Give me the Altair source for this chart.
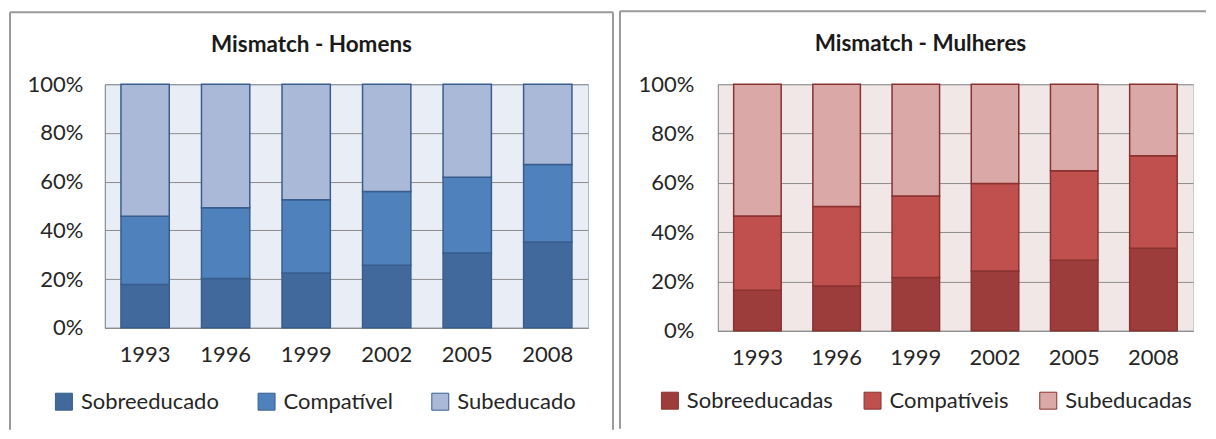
import altair as alt
import pandas as pd

FONT = "Lato"
TXT = "#262626"
GRID = "#8c8c8c"

years = ["1993", "1996", "1999", "2002", "2005", "2008"]

homens_labels = ["Sobreeducado", "Compatível", "Subeducado"]
homens_sobre = [17.8, 20.2, 22.5, 25.7, 30.7, 35.2]
homens_compat = [28.0, 29.1, 30.1, 30.3, 31.1, 31.8]
homens_sub = [54.2, 50.7, 47.4, 44.0, 38.2, 33.0]
homens_colors = ["#41699B", "#4F81BD", "#A9B9D7"]

mulheres_labels = ["Sobreeducadas", "Compatíveis", "Subeducadas"]
mulheres_sobre = [16.5, 18.2, 21.6, 24.3, 28.6, 33.5]
mulheres_compat = [30.1, 32.2, 33.1, 35.4, 36.3, 37.5]
mulheres_sub = [53.4, 49.6, 45.3, 40.3, 35.1, 29.0]
mulheres_colors = ["#9D3D3B", "#C0504D", "#DAA8A7"]


def make_df(labels, series):
    rows = []
    for k, (lab, vals) in enumerate(zip(labels, series)):
        for y, v in zip(years, vals):
            rows.append({"ano": y, "nivel": lab, "valor": v, "ordem": k})
    return pd.DataFrame(rows)


def panel(df, labels, colors, stroke, bg, vstroke, title, w, h,
          tx, ty, lx, ly, colpad, fl, ft, fr, fb, right_border, ypad):
    bars = alt.Chart(df).mark_bar(stroke=stroke, strokeWidth=1.5).encode(
        x=alt.X("ano:N", sort=years, title=None,
                scale=alt.Scale(paddingInner=0.4, paddingOuter=0.2),
                axis=alt.Axis(labelAngle=0, labelPadding=17, ticks=False,
                              domainColor=GRID, grid=False)),
        y=alt.Y("valor:Q", stack="normalize", title=None,
                scale=alt.Scale(domain=[0, 1]),
                axis=alt.Axis(format=".0%", values=[0, 0.2, 0.4, 0.6, 0.8, 1.0],
                              labelPadding=ypad, ticks=False, grid=True,
                              gridColor=GRID, domainColor=GRID)),
        color=alt.Color("nivel:N", sort=labels,
                        scale=alt.Scale(domain=labels, range=colors),
                        legend=alt.Legend(title=None, orient="none", legendX=lx, legendY=ly,
                                          direction="horizontal", symbolType="square",
                                          symbolSize=289, symbolStrokeColor=stroke,
                                          symbolStrokeWidth=1, labelOffset=6,
                                          columnPadding=colpad)),
        order=alt.Order("ordem:Q"),
    )
    ttl = alt.Chart(pd.DataFrame({"t": [title]})).mark_text(
        font=FONT, fontSize=22.5, fontWeight="bold", color="#1a1a1a",
        align="center", baseline="middle"
    ).encode(x=alt.value(tx), y=alt.value(ty), text="t:N")
    fdf = pd.DataFrame({"f": [0]})
    fc = "#9a9a9a"
    left = alt.Chart(fdf).mark_rule(color=fc, strokeWidth=2).encode(
        x=alt.value(fl), y=alt.value(ft), y2=alt.value(fb))
    top = alt.Chart(fdf).mark_rule(color=fc, strokeWidth=2).encode(
        x=alt.value(fl), x2=alt.value(fr), y=alt.value(ft))
    layers = [left, top]
    if right_border:
        layers.append(alt.Chart(fdf).mark_rule(color=fc, strokeWidth=2).encode(
            x=alt.value(fr), y=alt.value(ft), y2=alt.value(fb)))
    layers += [bars, ttl]
    return alt.layer(*layers).properties(
        width=w, height=h, view=alt.ViewBackground(fill=bg, stroke=vstroke))


hom = panel(make_df(homens_labels, [homens_sobre, homens_compat, homens_sub]),
            homens_labels, homens_colors, "#395E8E", "#E9EDF5", "#A3B7D9",
            "Mismatch - Homens", 484, 244,
            207, -39, -52, 307, 36, -95, -72, 509, 346, True, 22)

mul = panel(make_df(mulheres_labels, [mulheres_sobre, mulheres_compat, mulheres_sub]),
            mulheres_labels, mulheres_colors, "#8A3230", "#F2E7E7", "#C9C9C9",
            "Mismatch - Mulheres", 476, 247,
            203, -40, -59, 306, 28, -98, -73, 489, 345, False, 24)

chart = alt.hconcat(hom, mul, spacing=3).resolve_scale(
    color="independent", x="independent", y="independent"
).properties(
    padding={"left": 0, "top": 1, "right": 0, "bottom": 0}
).configure(font=FONT).configure_axis(
    labelFont=FONT, labelFontSize=22, labelColor=TXT
).configure_legend(
    labelFont=FONT, labelFontSize=22, labelColor=TXT
)

chart.save("out.html", embed_options={"renderer": "svg", "actions": False})
